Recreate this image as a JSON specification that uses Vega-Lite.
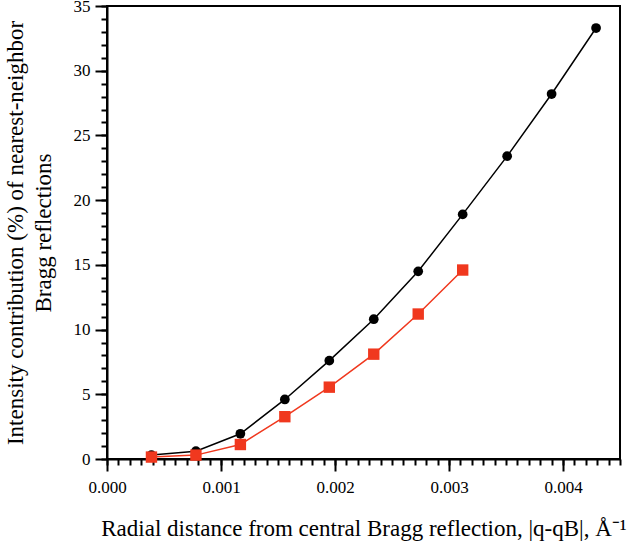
{
  "$schema": "https://vega.github.io/schema/vega-lite/v6.json",
  "autosize": "none",
  "width": 513,
  "height": 453,
  "padding": {"left": 107, "top": 6, "right": 10, "bottom": 86},
  "background": "white",
  "config": {
    "font": "Liberation Serif",
    "view": {"stroke": "black", "strokeWidth": 2},
    "axis": {"grid": false, "domainColor": "black", "domainWidth": 2, "tickColor": "black", "tickWidth": 2, "labelColor": "black", "titleColor": "black", "labelFont": "Liberation Serif", "titleFont": "Liberation Serif", "labelFontSize": 17, "titleFontSize": 23, "titleFontWeight": "normal"}
  },
  "data": {
    "values": [
      {"q": 0.00039, "v": 0.3, "s": "black"},
      {"q": 0.00078, "v": 0.6, "s": "black"},
      {"q": 0.00117, "v": 1.95, "s": "black"},
      {"q": 0.00156, "v": 4.6, "s": "black"},
      {"q": 0.00195, "v": 7.6, "s": "black"},
      {"q": 0.00234, "v": 10.8, "s": "black"},
      {"q": 0.00273, "v": 14.5, "s": "black"},
      {"q": 0.00312, "v": 18.9, "s": "black"},
      {"q": 0.00351, "v": 23.4, "s": "black"},
      {"q": 0.0039, "v": 28.2, "s": "black"},
      {"q": 0.00429, "v": 33.3, "s": "black"},
      {"q": 0.00039, "v": 0.15, "s": "red"},
      {"q": 0.00078, "v": 0.3, "s": "red"},
      {"q": 0.00117, "v": 1.12, "s": "red"},
      {"q": 0.00156, "v": 3.27, "s": "red"},
      {"q": 0.00195, "v": 5.55, "s": "red"},
      {"q": 0.00234, "v": 8.1, "s": "red"},
      {"q": 0.00273, "v": 11.2, "s": "red"},
      {"q": 0.00312, "v": 14.6, "s": "red"}
    ]
  },
  "resolve": {"axis": {"x": "independent", "y": "independent"}},
  "layer": [
    {
      "mark": {"type": "line", "strokeWidth": 1.5},
      "encoding": {
        "x": {"field": "q", "type": "quantitative", "scale": {"domain": [0, 0.0045], "nice": false},
          "axis": {"orient": "bottom", "tickCount": 5, "format": ".3f", "labelOverlap": false, "tickSize": 12, "labelPadding": 8, "labelFlush": false, "labelFont": "Liberation Serif", "titleFont": "Liberation Serif",
            "title": "Radial distance from central Bragg reflection, |q-qB|, Å⁻¹", "titlePadding": 22}},
        "y": {"field": "v", "type": "quantitative", "scale": {"domain": [0, 35], "nice": false},
          "axis": {"orient": "left", "tickCount": 7, "labelOverlap": false, "tickSize": 12, "labelPadding": 5, "labelFlush": false, "labelFont": "Liberation Serif", "titleFont": "Liberation Serif",
            "title": ["Intensity contribution (%) of nearest-neighbor", "Bragg reflections"], "titlePadding": 18, "titleLineHeight": 28}},
        "color": {"field": "s", "type": "nominal", "scale": {"domain": ["black", "red"], "range": ["black", "#f0381e"]}, "legend": null},
        "detail": {"field": "s"}
      }
    },
    {
      "mark": {"type": "point", "filled": true, "opacity": 1},
      "encoding": {
        "x": {"field": "q", "type": "quantitative",
          "axis": {"orient": "bottom", "tickCount": 45, "labels": false, "domain": false, "tickSize": 6, "tickWidth": 2, "tickColor": "black", "title": null}},
        "y": {"field": "v", "type": "quantitative",
          "axis": {"orient": "left", "tickCount": 35, "labels": false, "domain": false, "tickSize": 6, "tickWidth": 2, "tickColor": "black", "title": null}},
        "color": {"field": "s", "type": "nominal", "scale": {"domain": ["black", "red"], "range": ["black", "#f0381e"]}, "legend": null},
        "shape": {"field": "s", "type": "nominal", "scale": {"domain": ["black", "red"], "range": ["circle", "square"]}, "legend": null},
        "size": {"field": "s", "type": "nominal", "scale": {"domain": ["black", "red"], "range": [95, 130]}, "legend": null}
      }
    }
  ]
}
